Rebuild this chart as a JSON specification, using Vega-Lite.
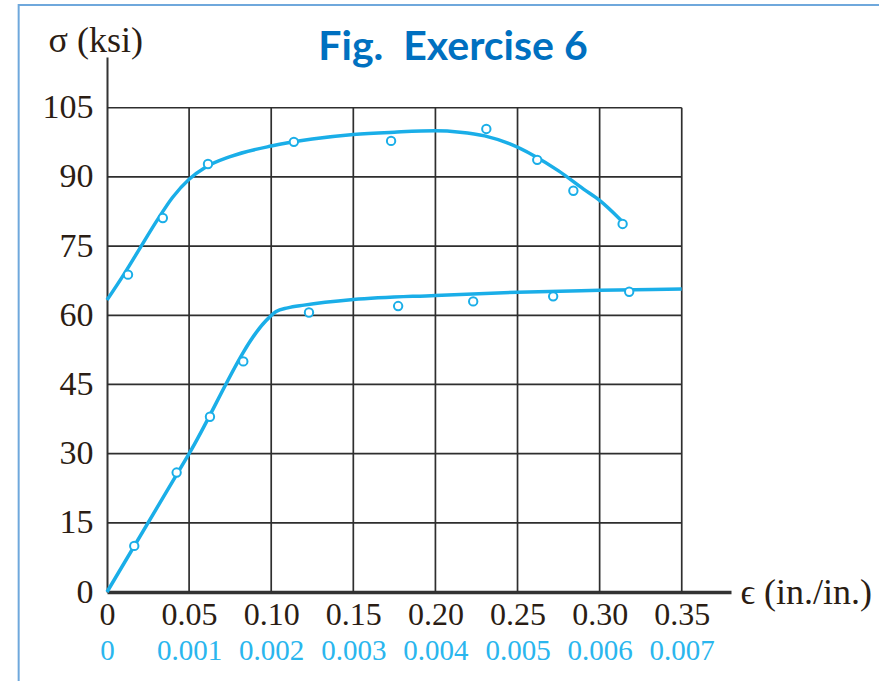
{
  "$schema": "https://vega.github.io/schema/vega-lite/v6.json",
  "width": 624,
  "height": 535,
  "autosize": {"type": "none"},
  "padding": {"left": 107, "top": 57, "right": 148, "bottom": 89},
  "background": "white",
  "config": {"view": {"stroke": null}},
  "title": {
    "text": "Fig.\u00a0\u00a0Exercise 6",
    "font": "Lato",
    "fontWeight": "bold",
    "fontSize": 41,
    "color": "#0070C0",
    "anchor": "middle",
    "frame": "group",
    "dx": 34,
    "dy": 65,
    "offset": 0
  },
  "resolve": {"axis": {"x": "independent", "y": "independent"}},
  "layer": [
    {
      "data": {"values": [{"x1": -0.0538, "x2": 0.5, "y1": 127.3, "y2": -30}]},
      "mark": {"type": "rect", "fill": null, "fillOpacity": 0, "stroke": "#6fa8dc", "strokeWidth": 2},
      "encoding": {
        "x": {"field": "x1", "type": "quantitative", "scale": {"domain": [0, 0.38], "nice": false, "zero": false}, "axis": null},
        "x2": {"field": "x2"},
        "y": {"field": "y1", "type": "quantitative", "scale": {"domain": [0, 116], "nice": false, "zero": false}, "axis": null},
        "y2": {"field": "y2"}
      }
    },
    {
      "data": {"values": [
        {"x": 0.05, "y": 0, "y2": 105}, {"x": 0.10, "y": 0, "y2": 105}, {"x": 0.15, "y": 0, "y2": 105},
        {"x": 0.20, "y": 0, "y2": 105}, {"x": 0.25, "y": 0, "y2": 105}, {"x": 0.30, "y": 0, "y2": 105},
        {"x": 0.35, "y": 0, "y2": 105}
      ]},
      "mark": {"type": "rule", "color": "#2e2e2e", "strokeWidth": 1.7},
      "encoding": {
        "x": {
          "field": "x", "type": "quantitative",
          "scale": {"domain": [0, 0.38], "nice": false, "zero": false},
          "axis": {
            "orient": "bottom",
            "values": [0, 0.05, 0.1, 0.15, 0.2, 0.25, 0.3, 0.35],
            "labelExpr": "datum.value == 0 ? '0' : format(datum.value, '.2f')",
            "ticks": false, "tickSize": 0, "grid": false,
            "domainColor": "#333333", "domainWidth": 3.5,
            "labelFont": "Liberation Serif", "labelFontSize": 32, "labelColor": "#2b1d14",
            "labelPadding": 7, "labelFlush": false, "labelOverlap": false,
            "title": "ϵ (in./in.)",
            "titleFont": "Liberation Serif", "titleFontSize": 36, "titleFontWeight": "normal", "titleColor": "#2b1d14",
            "titleAngle": 0, "titleAlign": "left", "titleBaseline": "middle",
            "titleX": 633, "titleY": 0
          }
        },
        "y": {
          "field": "y", "type": "quantitative",
          "scale": {"domain": [0, 116], "nice": false, "zero": false},
          "axis": {
            "orient": "left",
            "values": [0, 15, 30, 45, 60, 75, 90, 105],
            "ticks": false, "tickSize": 0, "grid": false,
            "domainColor": "#333333", "domainWidth": 2,
            "labelFont": "Liberation Serif", "labelFontSize": 34, "labelColor": "#2b1d14",
            "labelPadding": 14, "labelFlush": false, "labelOverlap": false,
            "title": "σ (ksi)",
            "titleFont": "Liberation Serif", "titleFontSize": 36, "titleFontWeight": "normal", "titleColor": "#2b1d14",
            "titleAngle": 0, "titleAlign": "left", "titleBaseline": "middle",
            "titleX": -59, "titleY": -17
          }
        },
        "y2": {"field": "y2"}
      }
    },
    {
      "data": {"values": [
        {"x": 0, "x2": 0.35, "y": 15}, {"x": 0, "x2": 0.35, "y": 30}, {"x": 0, "x2": 0.35, "y": 45},
        {"x": 0, "x2": 0.35, "y": 60}, {"x": 0, "x2": 0.35, "y": 75}, {"x": 0, "x2": 0.35, "y": 90},
        {"x": 0, "x2": 0.35, "y": 105}
      ]},
      "mark": {"type": "rule", "color": "#2e2e2e", "strokeWidth": 1.7},
      "encoding": {
        "x": {
          "field": "x", "type": "quantitative",
          "scale": {"domain": [0, 0.38], "nice": false, "zero": false},
          "axis": {
            "orient": "bottom",
            "values": [0, 0.05, 0.1, 0.15, 0.2, 0.25, 0.3, 0.35],
            "labelExpr": "datum.value == 0 ? '0' : format(datum.value / 50, '.3f')",
            "ticks": false, "tickSize": 0, "grid": false, "domain": false,
            "labelFont": "Liberation Serif", "labelFontSize": 29, "labelColor": "#2ab6ee",
            "labelPadding": 44, "labelFlush": false, "labelOverlap": false,
            "title": null
          }
        },
        "x2": {"field": "x2"},
        "y": {"field": "y", "type": "quantitative", "scale": {"domain": [0, 116], "nice": false, "zero": false}, "axis": null}
      }
    },
    {
      "data": {"values": [
        {"x": 0, "y": 63.3}, {"x": 0.01, "y": 68.7}, {"x": 0.02, "y": 74.5}, {"x": 0.03, "y": 80.3},
        {"x": 0.04, "y": 85.6}, {"x": 0.05, "y": 89.5}, {"x": 0.06, "y": 92.1}, {"x": 0.075, "y": 94.4},
        {"x": 0.10, "y": 96.7}, {"x": 0.125, "y": 98.2}, {"x": 0.15, "y": 99.2}, {"x": 0.175, "y": 99.7},
        {"x": 0.20, "y": 100.0}, {"x": 0.215, "y": 99.7}, {"x": 0.23, "y": 98.9}, {"x": 0.245, "y": 97.2},
        {"x": 0.26, "y": 94.6}, {"x": 0.275, "y": 91.3}, {"x": 0.29, "y": 87.4}, {"x": 0.30, "y": 84.9},
        {"x": 0.313, "y": 80.6}
      ]},
      "mark": {"type": "line", "color": "#1aaee8", "strokeWidth": 3.5, "interpolate": "monotone"},
      "encoding": {
        "x": {"field": "x", "type": "quantitative", "scale": {"domain": [0, 0.38], "nice": false, "zero": false}, "axis": null},
        "y": {"field": "y", "type": "quantitative", "scale": {"domain": [0, 116], "nice": false, "zero": false}, "axis": null}
      }
    },
    {
      "data": {"values": [
        {"x": 0, "y": 0}, {"x": 0.05, "y": 30}, {"x": 0.099, "y": 59.6}, {"x": 0.103, "y": 60.8},
        {"x": 0.11, "y": 61.6}, {"x": 0.12, "y": 62.2}, {"x": 0.15, "y": 63.4}, {"x": 0.20, "y": 64.3},
        {"x": 0.25, "y": 65.0}, {"x": 0.30, "y": 65.4}, {"x": 0.35, "y": 65.7}
      ]},
      "mark": {"type": "line", "color": "#1aaee8", "strokeWidth": 3.5, "interpolate": "monotone"},
      "encoding": {
        "x": {"field": "x", "type": "quantitative", "scale": {"domain": [0, 0.38], "nice": false, "zero": false}, "axis": null},
        "y": {"field": "y", "type": "quantitative", "scale": {"domain": [0, 116], "nice": false, "zero": false}, "axis": null}
      }
    },
    {
      "data": {"values": [
        {"x": 0.0128, "y": 68.8}, {"x": 0.034, "y": 81.1}, {"x": 0.0615, "y": 92.8}, {"x": 0.1138, "y": 97.6},
        {"x": 0.173, "y": 97.8}, {"x": 0.231, "y": 100.4}, {"x": 0.262, "y": 93.7}, {"x": 0.284, "y": 87.0},
        {"x": 0.314, "y": 79.8},
        {"x": 0.0166, "y": 10.0}, {"x": 0.0424, "y": 25.9}, {"x": 0.0627, "y": 38.0}, {"x": 0.083, "y": 50.0},
        {"x": 0.123, "y": 60.6}, {"x": 0.1773, "y": 62.0}, {"x": 0.223, "y": 63.0}, {"x": 0.2717, "y": 64.1},
        {"x": 0.318, "y": 65.1}
      ]},
      "mark": {"type": "point", "shape": "circle", "fill": "white", "filled": true, "stroke": "#1aaee8", "strokeWidth": 2, "size": 70, "opacity": 1},
      "encoding": {
        "x": {"field": "x", "type": "quantitative", "scale": {"domain": [0, 0.38], "nice": false, "zero": false}, "axis": null},
        "y": {"field": "y", "type": "quantitative", "scale": {"domain": [0, 116], "nice": false, "zero": false}, "axis": null}
      }
    }
  ]
}
